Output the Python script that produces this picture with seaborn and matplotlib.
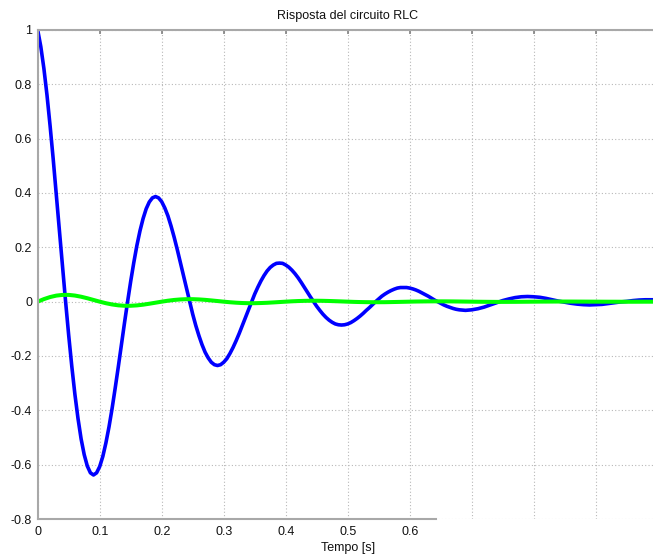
import numpy as np
import pandas as pd
import seaborn as sns
import matplotlib
matplotlib.use("Agg")
import matplotlib.pyplot as plt
from matplotlib.ticker import FixedLocator

# Time samples (s): finer step where the voltage swings are large
tempo_v = np.round(np.concatenate([np.arange(141) * 0.005, 0.71 + np.arange(30) * 0.01]), 3)
tempo_i = np.round(np.arange(101) * 0.01, 2)

# Capacitor voltage (normalised), blue trace
tensione = [
    1.000, 0.939, 0.858, 0.760, 0.647, 0.525, 0.395, 0.262, 0.129, 0.000,
    -0.124, -0.238, -0.341, -0.430, -0.505, -0.563, -0.605, -0.630, -0.638, -0.630,
    -0.607, -0.570, -0.520, -0.461, -0.393, -0.318, -0.240, -0.159, -0.078, 0.000,
    0.075, 0.144, 0.207, 0.261, 0.306, 0.342, 0.367, 0.382, 0.387, 0.382,
    0.368, 0.345, 0.316, 0.279, 0.238, 0.193, 0.145, 0.096, 0.048, 0.000,
    -0.046, -0.088, -0.125, -0.158, -0.186, -0.207, -0.223, -0.232, -0.235, -0.232,
    -0.223, -0.210, -0.191, -0.169, -0.144, -0.117, -0.088, -0.058, -0.029, 0.000,
    0.028, 0.053, 0.076, 0.096, 0.113, 0.126, 0.135, 0.141, 0.142, 0.141,
    0.135, 0.127, 0.116, 0.103, 0.088, 0.071, 0.053, 0.035, 0.017, 0.000,
    -0.017, -0.032, -0.046, -0.058, -0.068, -0.076, -0.082, -0.085, -0.086, -0.085,
    -0.082, -0.077, -0.070, -0.062, -0.053, -0.043, -0.032, -0.022, -0.011, 0.000,
    0.010, 0.020, 0.028, 0.035, 0.041, 0.046, 0.050, 0.052, 0.052, 0.052,
    0.050, 0.047, 0.043, 0.038, 0.032, 0.026, 0.020, 0.013, 0.006, 0.000,
    -0.006, -0.012, -0.017, -0.021, -0.025, -0.028, -0.030, -0.031, -0.032, -0.031,
    -0.030,
    -0.026, -0.020, -0.012, -0.004, 0.004, 0.010, 0.015, 0.018, 0.019,
    0.018, 0.016, 0.012, 0.007, 0.002, -0.002, -0.006, -0.009, -0.011, -0.012,
    -0.011, -0.010, -0.007, -0.004, -0.001, 0.001, 0.004, 0.006, 0.007, 0.007,
    0.007,
]

# Circuit current, green trace
corrente = [
    0.0000, 0.0094, 0.0170, 0.0223, 0.0249, 0.0249, 0.0225, 0.0182, 0.0126, 0.0063,
    0.0000, -0.0057, -0.0103, -0.0135, -0.0151, -0.0151, -0.0137, -0.0111, -0.0076, -0.0038,
    0.0000, 0.0035, 0.0063, 0.0082, 0.0092, 0.0092, 0.0083, 0.0067, 0.0046, 0.0023,
    0.0000, -0.0021, -0.0038, -0.0050, -0.0056, -0.0056, -0.0050, -0.0041, -0.0028, -0.0014,
    0.0000, 0.0013, 0.0023, 0.0030, 0.0034, 0.0034, 0.0031, 0.0025, 0.0017, 0.0009,
    0.0000, -0.0008, -0.0014, -0.0018, -0.0020, -0.0020, -0.0019, -0.0015, -0.0010, -0.0005,
    0.0000, 0.0005, 0.0008, 0.0011, 0.0012, 0.0012, 0.0011, 0.0009, 0.0006, 0.0003,
    0.0000, -0.0003, -0.0005, -0.0007, -0.0008, -0.0008, -0.0007, -0.0006, -0.0004, -0.0002,
    0.0000, 0.0002, 0.0003, 0.0004, 0.0005, 0.0005, 0.0004, 0.0003, 0.0002, 0.0001,
    0.0000, -0.0001, -0.0002, -0.0002, -0.0003, -0.0003, -0.0003, -0.0002, -0.0001, -0.0001,
    0.0000,
]

x_ticks = [0.0, 0.1, 0.2, 0.3, 0.4, 0.5, 0.6, 0.7, 0.8, 0.9, 1.0]
x_tick_labels = ["0", "0.1", "0.2", "0.3", "0.4", "0.5", "0.6", "", "", "", ""]
y_ticks = [-0.8, -0.6, -0.4, -0.2, 0.0, 0.2, 0.4, 0.6, 0.8, 1.0]
y_tick_labels = ["-0.8", "-0.6", "-0.4", "-0.2", "0", "0.2", "0.4", "0.6", "0.8", "1"]

df_v = pd.DataFrame({"t": tempo_v, "v": tensione})
df_i = pd.DataFrame({"t": tempo_i, "i": corrente})

sns.set_style("white")
plt.rcParams["font.family"] = ["Liberation Sans", "DejaVu Sans"]

fig = plt.figure(figsize=(6.53, 5.56), dpi=100)
ax = fig.add_axes([37.7 / 653, 1 - 519 / 556, 620 / 653, 489 / 556])

sns.lineplot(data=df_v, x="t", y="v", ax=ax, color="#0000ff", linewidth=2.6,
             estimator=None, sort=False)
sns.lineplot(data=df_i, x="t", y="i", ax=ax, color="#00ff00", linewidth=2.9,
             estimator=None, sort=False)

ax.set_xlim(0, 1)
ax.set_ylim(-0.8, 1)
ax.xaxis.set_major_locator(FixedLocator(x_ticks))
ax.set_xticklabels(x_tick_labels)
ax.yaxis.set_major_locator(FixedLocator(y_ticks))
ax.set_yticklabels(y_tick_labels)

ax.grid(True, color="#b8b8b8", linestyle=(0, (1, 2)), linewidth=0.8)
ax.tick_params(axis="both", direction="in", length=3, width=1.2, color="#808080",
               top=True, right=True, labelsize=9, labelcolor="#111111", pad=4)
ax.tick_params(axis="x", pad=5)

for side in ["top", "bottom", "left", "right"]:
    ax.spines[side].set_color("#a8a8a8")
    ax.spines[side].set_linewidth(1.5)
ax.spines["bottom"].set_bounds(0, 0.643)

ax.set_title("Risposta del circuito RLC", fontsize=9, color="#111111", pad=8)
ax.set_xlabel("Tempo [s]", fontsize=9, color="#111111", labelpad=3)
ax.set_ylabel("")

fig.savefig("out.png", dpi=100)
